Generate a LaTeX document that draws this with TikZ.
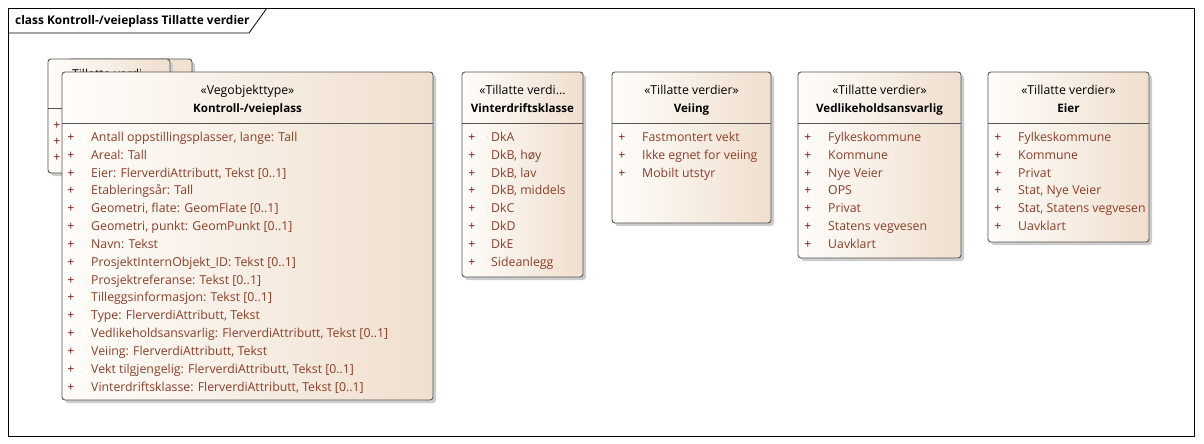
\documentclass[tikz,border=0pt]{standalone}
\usepackage{fontspec}
\setmainfont{Open Sans}
\definecolor{attrc}{RGB}{140,62,40}
\definecolor{plusc}{RGB}{125,20,20}
\definecolor{boxr}{RGB}{239,223,206}
\definecolor{boxl}{RGB}{255,253,250}
\definecolor{edgec}{RGB}{85,85,85}
\newcommand\fsz{\fontsize{12.3}{14}\selectfont}
\newcommand\fszb{\fontsize{11.6}{14}\selectfont\bfseries}
\tikzset{
  boxshadow/.style={fill=black!20, draw=none, rounded corners=3pt},
  boxbody/.style={draw=edgec, line width=0.9pt, rounded corners=3pt, left color=boxl, right color=boxr},
  sepline/.style={draw=edgec, line width=0.9pt},
  frameline/.style={draw=black, line width=0.8pt},
  stereo/.style={anchor=base, inner sep=0pt, font=\fsz},
  cname/.style={anchor=base, inner sep=0pt, font=\fszb},
  attr/.style={anchor=base west, inner sep=0pt, text=attrc, font=\fsz},
  plussign/.style={anchor=base, inner sep=0pt, text=plusc, font=\fsz},
}
\newcommand\umlbox[5]{%
  \path[boxshadow] (#1+3,#2+3) rectangle (#3+3,#4+3);
  \path[boxbody] (#1,#2) rectangle (#3,#4);
  \draw[sepline] (#1,#5) -- (#3,#5);}
\newcommand\umlrows[5]{%
  \foreach \t [count=\i] in {#5} {
    \node[plussign] (#1p\i) at (#2, #4+17.85*\i-17.85) {+};
    \node[attr] (#1a\i) at (#3, #4+17.85*\i-17.85) {\t};
  }}
\begin{document}
\begin{tikzpicture}[x=1pt,y=-1pt]
\useasboundingbox (0,0) rectangle (1204,444);
\fill[white] (0,0) rectangle (1204,444);
% frame
\draw[frameline] (8,8) rectangle (1194,436);
\draw[frameline] (8,33) -- (249,33) -- (267,8);
\node[anchor=base west, inner sep=0pt, font=\fontsize{11.9}{14}\selectfont\bfseries] (title) at (15,25) {class Kontroll-/veieplass Tillatte verdier};
% stacked boxes behind
\umlbox{68}{59}{192}{173}{108}
\umlbox{48}{59}{170}{173}{108}
\node[stereo] (b1s) at (109,78) {«Tillatte verdi...};
\node[plussign] (b1p1) at (57,129) {+};
\node[plussign] (b1p2) at (57,145) {+};
\node[plussign] (b1p3) at (57,161) {+};
% main box
\umlbox{62}{72}{433}{400}{123}
\node[stereo] (ms) at (247.5,94) {«Vegobjekttype»};
\node[cname] (mn) at (247.5,112) {Kontroll-/veieplass};
\umlrows{m}{71}{91}{141.3}{{Antall oppstillingsplasser, lange: Tall},{Areal: Tall},{Eier: FlerverdiAttributt, Tekst [0..1]},{Etableringsår: Tall},{Geometri, flate: GeomFlate [0..1]},{Geometri, punkt: GeomPunkt [0..1]},{Navn: Tekst},{ProsjektInternObjekt\_ID: Tekst [0..1]},{Prosjektreferanse: Tekst [0..1]},{Tilleggsinformasjon: Tekst [0..1]},{Type: FlerverdiAttributt, Tekst},{Vedlikeholdsansvarlig: FlerverdiAttributt, Tekst [0..1]},{Veiing: FlerverdiAttributt, Tekst},{Vekt tilgjengelig: FlerverdiAttributt, Tekst [0..1]},{Vinterdriftsklasse: FlerverdiAttributt, Tekst [0..1]}}
% Vinterdriftsklasse
\umlbox{462}{72}{583}{277}{123}
\node[stereo] (vs) at (522.5,94) {«Tillatte verdi...};
\node[cname] (vn) at (522.5,112) {Vinterdriftsklasse};
\umlrows{v}{472}{491}{141.3}{DkA,{DkB, høy},{DkB, lav},{DkB, middels},DkC,DkD,DkE,Sideanlegg}
% Veiing
\umlbox{612}{72}{771}{223}{123}
\node[stereo] (ws) at (691.5,94) {«Tillatte verdier»};
\node[cname] (wn) at (691.5,112) {Veiing};
\umlrows{w}{622}{642}{141.3}{Fastmontert vekt,Ikke egnet for veiing,Mobilt utstyr}
% Vedlikeholdsansvarlig
\umlbox{798}{72}{961}{258}{123}
\node[stereo] (ls) at (879.5,94) {«Tillatte verdier»};
\node[cname] (ln) at (879.5,112) {Vedlikeholdsansvarlig};
\umlrows{l}{808}{828}{141.3}{Fylkeskommune,Kommune,Nye Veier,OPS,Privat,Statens vegvesen,Uavklart}
% Eier
\umlbox{988}{72}{1149}{242}{123}
\node[stereo] (es) at (1068.5,94) {«Tillatte verdier»};
\node[cname] (en) at (1068.5,112) {Eier};
\umlrows{e}{998}{1018}{141.3}{Fylkeskommune,Kommune,Privat,{Stat, Nye Veier},{Stat, Statens vegvesen},Uavklart}
\end{tikzpicture}
\end{document}
